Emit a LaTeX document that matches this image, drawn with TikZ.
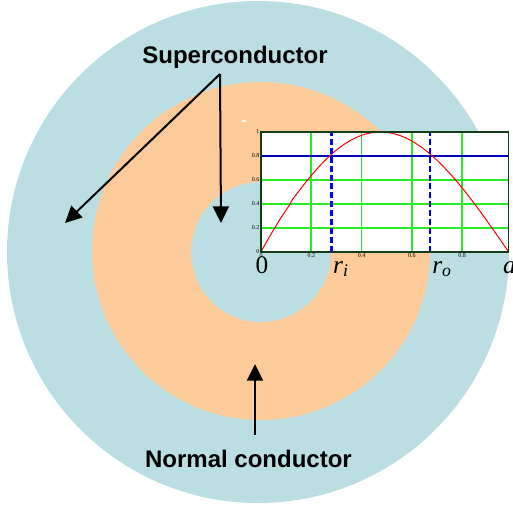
\documentclass[tikz,border=0pt]{standalone}
\usepackage{fontspec}
\setmainfont{Liberation Serif}
\setsansfont{Liberation Sans}
\usetikzlibrary{arrows.meta}
\definecolor{iceblue}{RGB}{186,222,226}
\definecolor{peach}{RGB}{252,203,153}
\definecolor{gridgreen}{RGB}{40,235,40}
\definecolor{framegreen}{RGB}{20,60,25}
\definecolor{levelteal}{RGB}{0,128,110}

\begin{document}
\begin{tikzpicture}[x=0.75pt, y=-0.75pt]
    % 样式
    \tikzstyle{label text}=[font=\sffamily\bfseries\fontsize{18}{18}\selectfont, inner sep=0pt, anchor=base]
    \tikzstyle{pointer}=[-{Triangle[length=12.5pt,width=12pt]}, line width=1.5pt, black]
    \tikzstyle{radius label}=[font=\fontsize{19}{19}\selectfont, inner sep=0pt, anchor=base west]
    \tikzstyle{tick label}=[font=\fontsize{4.5}{4.5}\selectfont, inner sep=1pt]
    \tikzstyle{grid line}=[gridgreen, line width=1.3pt]
    \tikzstyle{radius line}=[blue, line width=2.2pt, dash pattern=on 4.5pt off 2.2pt]

    \useasboundingbox (0,0) rectangle (513,508);

    % 导体截面: 外层超导, 环形常导, 内芯超导
    \fill[iceblue] (258,252) circle[radius=188.25pt];
    \fill[peach] (261,251) circle[radius=126.75pt];
    \fill[iceblue] (261,252) circle[radius=52.5pt];
    \fill[white] (242,120) rectangle (246,122);

    % 曲线图
    \begin{scope}[shift={(261,252)}, x=188.6pt, y=90pt]
        \fill[white] (0,0) rectangle (0.986,1);
        \foreach \g in {0.2,0.4,0.6,0.8}
            \draw[grid line] (\g,0) -- (\g,1);
        \foreach \g in {0.2,0.4,0.6}
            \draw[grid line] (0,\g) -- (0.986,\g);
        % 0.8 水平线
        \draw[levelteal, line width=1.8pt] (0,0.8) -- (0.982,0.8);
        \draw[blue!75!black, line width=0.8pt] (0,0.8) -- (0.982,0.8);
        % 红色曲线
        \draw[red, line width=0.75pt] (0,0) -- plot[domain=0.004:0.985, samples=90]
            (\x,{sin(180*pow(\x/0.985,0.95))});
        % r_i 和 r_o
        \draw[radius line] (0.28,0) -- (0.28,1);
        \draw[radius line] (0.672,0) -- (0.672,1);
        % 边框
        \draw[framegreen, line width=0.8pt] (0,0) rectangle (0.986,1);
        \draw[framegreen, line width=1.3pt] (0,1) -- (0.986,1);
        % 刻度
        \foreach \v [count=\i] in {0,0.2,0.4,0.6,0.8,1}
            \node[tick label, anchor=east] (ytick\i) at (0,\v) {\v};
        \foreach \v [count=\i] in {0,0.2,0.4,0.6,0.8}
            \node[tick label, anchor=north] (xtick\i) at (\v,0) {\v};
        % 半径标记
        \node[radius label, anchor=base] (zero) at (0.004,-0.18) {0};
        \node[radius label] (rin) at (0.286,-0.175) {\textit{r}\textsubscript{\textit{i}}};
        \node[radius label] (rout) at (0.68,-0.175) {\textit{r}\textsubscript{\textit{o}}};
        \node[radius label] (aout) at (0.962,-0.175) {\textit{a}};
    \end{scope}

    % 标注
    \node[label text] (super) at (235,63) {Superconductor};
    \node[label text] (normal) at (248.5,467) {Normal conductor};
    \coordinate (fork) at (220,74);
    \coordinate (shelltip) at (65,223);
    \coordinate (coretip) at (221,223);
    \coordinate (ringtail) at (255,435);
    \coordinate (ringtip) at (255,364);
    \draw[pointer] (fork) -- (shelltip);
    \draw[pointer] (fork) -- (coretip);
    \draw[pointer] (ringtail) -- (ringtip);
\end{tikzpicture}
\end{document}
